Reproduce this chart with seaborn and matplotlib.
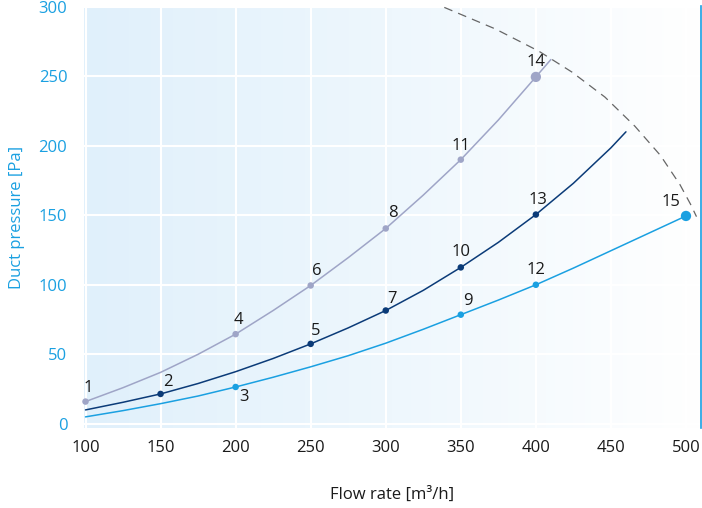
import matplotlib.pyplot as plt
import matplotlib.colors as mcolors
import seaborn as sns
import pandas as pd
import numpy as np

# --- data ---
# curve A (light grey-violet)
curva_a_x = [100, 125, 150, 175, 200, 225, 250, 275, 300, 325, 350, 375, 400, 410]
curva_a_y = [16, 26, 37, 50, 64.5, 81.5, 99.5, 119.5, 140.5, 164.5, 190, 218.5, 249.5, 262]
# curve B (dark blue)
curva_b_x = [100, 125, 150, 175, 200, 225, 250, 275, 300, 325, 350, 375, 400, 425, 450, 460]
curva_b_y = [10, 15.5, 21.5, 29, 37.5, 47, 57.5, 69, 81.5, 96, 112.5, 130.5, 150.5, 173, 198.5, 210]
# curve C (cyan)
curva_c_x = [100, 125, 150, 175, 200, 225, 250, 275, 300, 325, 350, 375, 400, 425, 450, 475, 500]
curva_c_y = [5, 9.5, 14.5, 20, 26.5, 33.5, 41, 49, 58, 68, 78.5, 89, 100, 112, 124.5, 137, 149.5]
# dashed limit arc
limite_x = [339, 373, 402, 424, 446, 466, 483, 496, 503, 507]
limite_y = [299.5, 284, 268, 253, 235, 214, 193, 172, 158, 149]

# numbered operating points
puntos_id = [1, 2, 3, 4, 5, 6, 7, 8, 9, 10, 11, 12, 13, 14, 15]
puntos_x = [100, 150, 200, 200, 250, 250, 300, 300, 350, 350, 350, 400, 400, 400, 500]
puntos_y = [16, 21.5, 26.5, 64.5, 57.5, 99.5, 81.5, 140.5, 78.5, 112.5, 190, 100, 150.5, 249.5, 149.5]
puntos_serie = ['a', 'b', 'c', 'a', 'b', 'a', 'b', 'a', 'c', 'b', 'a', 'c', 'b', 'a', 'c']
puntos_grandes = [14, 15]

x_ticks = [100, 150, 200, 250, 300, 350, 400, 450, 500]
y_ticks = [0, 50, 100, 150, 200, 250, 300]

colores = {'a': '#9fa5c7', 'b': '#0b3b78', 'c': '#1aa0e1'}
azul_texto = '#1aa0e1'

# label offsets in pixels (dx, dy) relative to the point
desplazamientos = {1: (3, 14), 2: (7, 12), 3: (8, -10), 4: (3, 14), 5: (5, 13),
                   6: (6, 14), 7: (6, 12), 8: (7, 15), 9: (7, 14), 10: (0, 15),
                   11: (0, 14), 12: (0, 15), 13: (2, 15), 14: (0, 15), 15: (-15, 14)}

sns.set_theme(style="white")
plt.rcParams['font.family'] = ['Open Sans', 'DejaVu Sans']

fig = plt.figure(figsize=(7.02, 5.08), dpi=100)
ax = fig.add_axes([84 / 702, 1 - 428 / 508, (701 - 84) / 702, (428 - 6) / 508])
ax.set_xlim(99, 510)
ax.set_ylim(-3, 300.5)

# gradient background
cmap_fondo = mcolors.LinearSegmentedColormap.from_list('fondo', ['#e0f0fb', '#eef7fd', '#ffffff'])
ax.imshow(np.linspace(0, 1, 256).reshape(1, -1), cmap=cmap_fondo, aspect='auto',
          extent=[99, 510, -3, 300.5], zorder=0)

ax.set_xticks(x_ticks)
ax.set_yticks(y_ticks)
ax.grid(True, color='white', linewidth=1.5, zorder=1)
ax.set_axisbelow(True)

df_a = pd.DataFrame({'x': curva_a_x, 'y': curva_a_y})
df_b = pd.DataFrame({'x': curva_b_x, 'y': curva_b_y})
df_c = pd.DataFrame({'x': curva_c_x, 'y': curva_c_y})
sns.lineplot(data=df_a, x='x', y='y', ax=ax, color=colores['a'], linewidth=1.1, zorder=3)
sns.lineplot(data=df_b, x='x', y='y', ax=ax, color=colores['b'], linewidth=1.1, zorder=3)
sns.lineplot(data=df_c, x='x', y='y', ax=ax, color=colores['c'], linewidth=1.1, zorder=3)
ax.plot(limite_x, limite_y, color='#666666', linewidth=0.9, dashes=(7, 5), zorder=3)

df_p = pd.DataFrame({'id': puntos_id, 'x': puntos_x, 'y': puntos_y, 'serie': puntos_serie})
df_p['grande'] = df_p['id'].isin(puntos_grandes)
for grande, tam in [(False, 22), (True, 55)]:
    sub = df_p[df_p['grande'] == grande]
    sns.scatterplot(data=sub, x='x', y='y', hue='serie', palette=colores, s=tam,
                    edgecolor='none', ax=ax, legend=False, zorder=4, clip_on=False)

for _, fila in df_p.iterrows():
    dx, dy = desplazamientos[fila['id']]
    ax.annotate(str(fila['id']), (fila['x'], fila['y']), xytext=(dx * 0.72, dy * 0.72),
                textcoords='offset points', ha='center', va='center',
                fontsize=12, color='#1a1a1a', zorder=5)

for lado in ['top', 'left', 'bottom']:
    ax.spines[lado].set_visible(False)
ax.spines['right'].set_color(azul_texto)
ax.spines['right'].set_linewidth(1.2)

ax.tick_params(axis='y', colors=azul_texto, labelsize=12, length=0, pad=12)
ax.tick_params(axis='x', colors='#1a1a1a', labelsize=12, length=0, pad=9)

ax.set_xlabel('Flow rate [m³/h]', fontsize=12, color='#1a1a1a', labelpad=22)
ax.set_ylabel('Duct pressure [Pa]', fontsize=12, color=azul_texto, labelpad=10)

fig.savefig('out.png', dpi=100)
